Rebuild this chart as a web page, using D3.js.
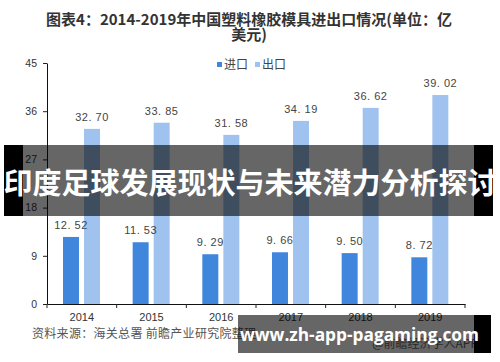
<!DOCTYPE html>
<head>
<meta charset="utf-8">
<script src="https://d3js.org/d3.v7.min.js"></script>
</head>
<style>
body { margin: 0; background: #fff; }
svg { display: block; }
</style>
<body>
<svg class="chart"></svg>
</body>
<script>
// data
var years = ["2014", "2015", "2016", "2017", "2018", "2019"];
var series = ["进口", "出口"];
var importVals = [12.52, 11.53, 9.29, 9.66, 9.50, 8.72];
var exportVals = [32.70, 33.85, 31.58, 34.19, 36.62, 39.02];
var yTicks = [0, 9, 18, 27, 36, 45];
var colors = ["#3f86dc", "#9fc3ee"];

var width = 500, height = 362;
var svg = d3.select(".chart").attr("width", width).attr("height", height);

var x = d3.scaleBand().domain(years).range([47, 465]);
var xs = d3.scaleBand().domain(series).range([16, 53]).paddingInner(0.24);
var y = d3.scaleLinear().domain([0, 45]).range([304, 63]);

var rows = years.map(function(d, i) {
	return {year: d, vals: [importVals[i], exportVals[i]]};
});

// title
svg.append("text")
	.attr("x", 249).attr("y", 25)
	.attr("text-anchor", "middle")
	.style("font-family", "'Noto Sans CJK SC', sans-serif")
	.style("font-weight", "bold")
	.style("font-size", "15px")
	.attr("fill", "#333")
	.text("图表4：2014-2019年中国塑料橡胶模具进出口情况(单位：亿");
svg.append("text")
	.attr("x", 249).attr("y", 40)
	.attr("text-anchor", "middle")
	.style("font-family", "'Noto Sans CJK SC', sans-serif")
	.style("font-weight", "bold")
	.style("font-size", "15px")
	.attr("fill", "#333")
	.text("美元)");

// legend
var legend = svg.append("g").attr("transform", "translate(217,65)");
series.forEach(function(s, i) {
	var g = legend.append("g").attr("transform", "translate(" + (i * 38) + ",0)");
	g.append("rect").attr("x", 0).attr("y", -3).attr("width", 5).attr("height", 5).attr("fill", colors[i]);
	g.append("text").attr("x", 7).attr("y", 4)
		.style("font-family", "'Noto Sans CJK SC', sans-serif")
		.style("font-size", "12px")
		.attr("fill", "#444")
		.text(s);
});

// bars
var groups = svg.selectAll(".grp")
	.data(rows)
	.enter().append("g")
	.attr("class", "grp")
	.attr("transform", function(d) { return "translate(" + x(d.year) + ",0)"; });

groups.selectAll("rect")
	.data(function(d) { return d.vals.map(function(v, i) { return {s: series[i], v: v, i: i}; }); })
	.enter().append("rect")
	.attr("x", function(d) { return xs(d.s); })
	.attr("width", xs.bandwidth())
	.attr("y", function(d) { return y(d.v); })
	.attr("height", function(d) { return y(0) - y(d.v); })
	.attr("fill", function(d) { return colors[d.i]; });

groups.selectAll(".lbl")
	.data(function(d) { return d.vals.map(function(v, i) { return {s: series[i], v: v, i: i}; }); })
	.enter().append("text")
	.attr("class", "lbl")
	.attr("x", function(d) { return xs(d.s) + xs.bandwidth() / 2; })
	.attr("y", function(d) { return y(d.v) - 8; })
	.attr("text-anchor", "middle")
	.style("font-family", "'Liberation Sans', Arial, sans-serif")
	.style("font-size", "11px")
	.style("letter-spacing", "0.5px")
	.attr("fill", "#444")
	.text(function(d) { return d.v.toFixed(2).replace(".", ". "); });

// y axis
var yAxis = svg.append("g")
	.attr("transform", "translate(47,0)")
	.call(d3.axisLeft(y).tickValues(yTicks).tickSize(4).tickSizeOuter(0).tickPadding(6));
yAxis.select(".domain").attr("stroke", "#111");
yAxis.selectAll("line").attr("stroke", "#222");
yAxis.selectAll("text")
	.style("font-family", "'Liberation Sans', Arial, sans-serif")
	.style("font-size", "10.5px")
	.attr("fill", "#333");

// x axis
var xAxis = svg.append("g")
	.attr("transform", "translate(0,304)")
	.call(d3.axisBottom(x).tickSize(0).tickSizeOuter(0).tickPadding(9));
xAxis.select(".domain").attr("stroke", "#111");
xAxis.selectAll("text")
	.style("font-family", "'Liberation Sans', Arial, sans-serif")
	.style("font-size", "11px")
	.attr("fill", "#333");
xAxis.selectAll(".bound")
	.data(years.concat(["end"]))
	.enter().append("line")
	.attr("class", "bound")
	.attr("x1", function(d, i) { return x.range()[0] + i * x.step(); })
	.attr("x2", function(d, i) { return x.range()[0] + i * x.step(); })
	.attr("y1", 0).attr("y2", 4)
	.attr("stroke", "#222");

// source
svg.append("text")
	.attr("x", 32).attr("y", 338)
	.style("font-family", "'Noto Sans CJK SC', sans-serif")
	.style("font-size", "12px")
	.style("letter-spacing", "0.3px")
	.attr("fill", "#555")
	.text("资料来源：海关总署 前瞻产业研究院整理");
svg.append("text")
	.attr("x", 478).attr("y", 348)
	.attr("text-anchor", "end")
	.style("font-family", "'Noto Sans CJK SC', sans-serif")
	.style("font-size", "12px")
	.attr("fill", "#666")
	.text("@前瞻经济学人APP");

// overlay banner
svg.append("rect").attr("x", 4).attr("y", 145).attr("width", 19).attr("height", 71).attr("fill", "#000");
svg.append("rect").attr("x", 474).attr("y", 145).attr("width", 19).attr("height", 71).attr("fill", "#000");
svg.append("rect").attr("x", 23).attr("y", 145).attr("width", 451).attr("height", 71).attr("fill", "rgba(0,0,0,0.6)");
svg.append("text")
	.attr("x", 250).attr("y", 194)
	.attr("text-anchor", "middle")
	.style("font-family", "'Noto Sans CJK SC', sans-serif")
	.style("font-weight", "bold")
	.style("font-size", "29px")
	.attr("fill", "#fff")
	.text("印度足球发展现状与未来潜力分析探讨");

// bottom watermark
svg.append("rect").attr("x", 238).attr("y", 315).attr("width", 236).attr("height", 38).attr("fill", "rgba(0,0,0,0.6)");
svg.append("rect").attr("x", 474).attr("y", 315).attr("width", 17).attr("height", 38).attr("fill", "#000");
svg.append("text")
	.attr("x", 240).attr("y", 341)
	.style("font-family", "'Open Sans', 'DejaVu Sans', sans-serif")
	.style("font-weight", "bold")
	.style("font-size", "17.3px")
	.attr("fill", "#fff")
	.text("www.zh-app-pagaming.com");
</script>
